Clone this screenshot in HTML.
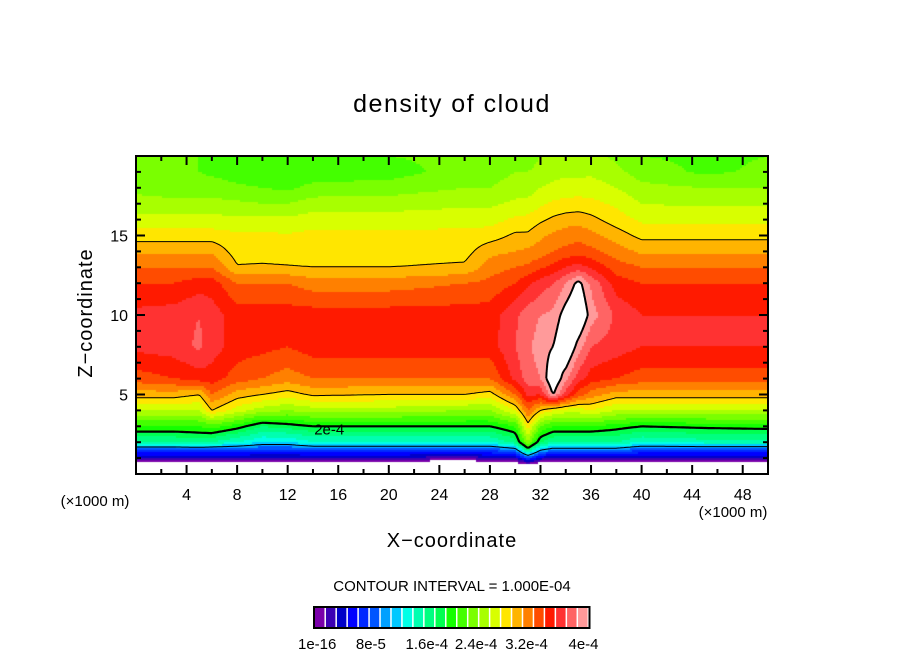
<!DOCTYPE html>
<html><head><meta charset="utf-8"><style>
html,body{margin:0;padding:0;background:#fff;}
#wrap{position:relative;width:904px;height:654px;overflow:hidden;font-family:"Liberation Sans",sans-serif;}
canvas{position:absolute;left:136px;top:156px;}
svg{position:absolute;left:0;top:0;}
</style></head><body>
<div id="wrap">
<canvas id="cv" width="632" height="318"></canvas>
<svg id="sv" width="904" height="654">
<text x="452" y="112" text-anchor="middle" font-size="25" letter-spacing="1.5">density of cloud</text>
<text x="452" y="547" text-anchor="middle" font-size="20" letter-spacing="1">X−coordinate</text>
<text x="0" y="0" transform="translate(92,313) rotate(-90)" text-anchor="middle" font-size="20" letter-spacing="1">Z−coordinate</text>
<text x="95" y="506" text-anchor="middle" font-size="15">(×1000 m)</text>
<text x="733" y="517" text-anchor="middle" font-size="15">(×1000 m)</text>
<text x="452" y="591" text-anchor="middle" font-size="15">CONTOUR INTERVAL = 1.000E-04</text>
<g id="ticks"></g>
<g id="lines"></g>
<g id="cbar"></g>
<rect x="136" y="156" width="632" height="318" fill="none" stroke="#000" stroke-width="2"></rect>
</svg>
</div>
<script>
// color levels
const colors=["#7a00aa","#3c00b4","#0000c8","#0000ff","#0028ff","#0055ff","#00a0ff","#00c8ff","#00ffe6","#00ffb0","#00ff80","#00ff50","#14ff00","#44ff00","#7aff00","#a8ff00","#d8ff00","#ffe600","#ffb400","#ff8000","#ff4c00","#ff1a00","#ff3232","#ff6464","#ff9a9a"];
const cbarLabels=["1e-16","8e-5","1.6e-4","2.4e-4","3.2e-4","4e-4"];
const cbarLabelIdx=[-0.3,4.6,9.7,14.2,18.8,24];
const xTicks=[4,8,12,16,20,24,28,32,36,40,44,48];
const yTicks=[5,10,15];
// grid: x positions (km), z positions (km), values in colour-level units
const gx=[0,3,5,6,8,10,12,14,20,26,28,30,31,32,33,34,35,36,38,40,45,50];
const gz=[0,0.5,1,1.5,2,3,4,5,6,8,10,12,13,14,15,16,17,18,19,20];
const col0=[-6,-2,2,5,10,13,16,18.5,20.5,22.3,22.3,21,20,18.8,17.5,16.3,15.3,14.8,14.3,14];
const col3=[-6,-2,2,5,10,13,16,18.5,21,22.5,22.5,21,20,18.8,17.5,16.3,15.3,14.5,14,14];
const col5=[-6,-2,2,5,10.5,13,16,18,21.5,23.2,23,21.5,20,18.8,17.5,16.3,15.3,14.5,14,14];
const col6=[-6,-2,2,5,10,13.5,18,20,21.5,22.5,22.5,21.5,20,18.8,17.5,16.3,15.3,14.5,13.8,14];
const col8=[-6,-2,2,5,9,12.5,16.5,18.5,20.5,21.5,21.5,20,18.1,17.5,17.2,16.3,15.2,14.2,13.5,14];
const col10=[-6,-2,1.8,4.5,8,11,15.5,18,20,21.3,21.5,20,18.2,17.4,17.2,16.3,15,14,13.3,14];
const col12=[-6,-2,1.8,4.5,8,11.5,15,17.5,19.5,21,21.5,20,18.1,17.4,17.1,16.2,15,13.8,13.2,14];
const col14=[-6,-2,2,5,9,12,15.5,18.2,20,21.5,21.5,19.5,18,17.5,17.3,16.5,15.5,14.3,13.4,14];
const col20=[-6,-2,2,5,9,12,15.5,18,20,21.5,21.5,19.5,18,17.5,17.3,16.5,15.5,14.5,13.5,14];
const col26=[-8,-3,1,5,9,12,15,18,20,21.5,21.5,20,18.2,17.6,17.3,16.6,15.8,15,14.5,14.3];
const col28=[-6,-2,2,5,9,12,15,17.5,20,21.5,21.5,20.3,19.5,18.7,17.5,16.6,15.8,15,14.5,14.5];
const col30=[-6,-2,2,6,10.5,13,17,20,22.3,23,22.8,21,20,19,18.2,17.2,16.2,15.5,15,14.5];
const col31=[-5,-1,5,11,15,17.5,20,22.3,23.5,23.8,23.5,21.8,20.2,19.2,18.2,17.3,16.3,15.5,15,14.5];
const col32=[-6,-2,2.5,7,11,14,18,22,24,24.5,24,22.5,20.8,19.5,18.8,17.8,16.8,16,15.3,15];
const col33=[-6,-2,2,6,10,13,17,25.1,26.2,25,24.2,23,21.3,20,19.2,18.2,17.2,16.3,15.6,15.2];
const col34=[-6,-2,2,6,10,13,16.5,22.5,24.3,26.5,25.6,24,22,20.3,19.5,18.5,17.3,16.5,15.7,15.3];
const col35=[-6,-2,2,6,10,13,16.5,20.5,22.5,24.5,26.5,25.4,22.5,20.5,19.7,18.6,17.4,16.5,15.7,15.3];
const col36=[-6,-2,2,6,10,13,17,19.5,21.5,23,24.5,23.8,21.8,20.3,19.3,18.3,17.3,16.5,15.8,15.3];
const col38=[-6,-2,2,6,10,12.5,16,18.5,21,22.5,22.8,21.5,20.5,19.5,18.5,17.5,16.8,16,15.3,14.8];
const col40=[-6,-2,2,5,9,12,16,18.5,20.5,22,22,21,20,18.8,17.7,16.8,16,15.3,14.5,14];
const col45=[-6,-2,2,5,9.5,12.3,16,18.5,20.5,22,22,21,20,18.8,17.7,16.8,15.8,15,13.8,13.8];
const col50=[-6,-2,2,5,9.5,12.5,16,18.5,20.5,22,22,21,20,18.8,17.7,16.8,15.8,15,14.2,14];
const cols=[col0,col3,col5,col6,col8,col10,col12,col14,col20,col26,col28,col30,col31,col32,col33,col34,col35,col36,col38,col40,col45,col50];
const contourLevels=[7,12,18,25];
const contourWidths=[1,2.2,1,2];

const X0=136,Y0=156,W=632,H=318,XMAX=50,ZMAX=20;
const sx=v=>X0+v/XMAX*W, sy=v=>Y0+H-v/ZMAX*H;
function seg(arr,v){let i=0;while(i<arr.length-2&&v>arr[i+1])i++;let t=(v-arr[i])/(arr[i+1]-arr[i]);return [i,Math.max(0,Math.min(1,t))];}
function field(x,z){const [i,tx]=seg(gx,x),[j,tz]=seg(gz,z);
 const a=cols[i][j],b=cols[i+1][j],c=cols[i][j+1],d=cols[i+1][j+1];
 return (a*(1-tx)+b*tx)*(1-tz)+(c*(1-tx)+d*tx)*tz;}
const ctx=document.getElementById('cv').getContext('2d');
const S=2,NX=W/S,NY=H/S;
const vals=[];
for(let r=0;r<=NY;r++){vals.push([]);for(let c=0;c<=NX;c++){vals[r].push(field(c*S/W*XMAX,ZMAX-r*S/H*ZMAX));}}
for(let r=0;r<NY;r++)for(let c=0;c<NX;c++){
 const v=(vals[r][c]+vals[r][c+1]+vals[r+1][c]+vals[r+1][c+1])/4;
 if(v<0||v>=25)continue;ctx.fillStyle=colors[Math.floor(v)];ctx.fillRect(c*S,r*S,S,S);}
const NS='http://www.w3.org/2000/svg';
const lg=document.getElementById('lines');
contourLevels.forEach((L,k)=>{let d='';
 for(let r=0;r<NY;r++)for(let c=0;c<NX;c++){
  const p=[[c,r,vals[r][c]],[c+1,r,vals[r][c+1]],[c+1,r+1,vals[r+1][c+1]],[c,r+1,vals[r+1][c]]];const pts=[];
  for(let e=0;e<4;e++){const A=p[e],B=p[(e+1)%4];if((A[2]<L)!==(B[2]<L)){const t=(L-A[2])/(B[2]-A[2]);pts.push([X0+(A[0]+t*(B[0]-A[0]))*S,Y0+(A[1]+t*(B[1]-A[1]))*S]);}}
  for(let q=0;q+1<pts.length;q+=2)d+='M'+pts[q][0].toFixed(1)+' '+pts[q][1].toFixed(1)+'L'+pts[q+1][0].toFixed(1)+' '+pts[q+1][1].toFixed(1);}
 const pa=document.createElementNS(NS,'path');pa.setAttribute('d',d);pa.setAttribute('stroke','#000');pa.setAttribute('fill','none');pa.setAttribute('stroke-width',contourWidths[k]);
 
 
 lg.appendChild(pa);});
const lbl=document.createElementNS(NS,'text');lbl.setAttribute('x',sx(14.1));lbl.setAttribute('y',sy(2.5));lbl.setAttribute('font-size','15');lbl.textContent='2e-4';


lg.appendChild(lbl);
const tg=document.getElementById('ticks');
function ln(x1,y1,x2,y2,name){const l=document.createElementNS(NS,'line');l.setAttribute('x1',x1);l.setAttribute('y1',y1);l.setAttribute('x2',x2);l.setAttribute('y2',y2);l.setAttribute('stroke','#000');l.setAttribute('stroke-width','2');
 
 
 tg.appendChild(l);}
function tx(x,y,s,anchor,name){const t=document.createElementNS(NS,'text');t.setAttribute('x',x);t.setAttribute('y',y);t.setAttribute('font-size','16');t.setAttribute('text-anchor',anchor);t.textContent=s;
 
 
 tg.appendChild(t);}
for(let v=2;v<XMAX;v+=2){const major=v%4===0,len=major?9:5,x=sx(v);ln(x,Y0+H,x,Y0+H-len,'x-tick');ln(x,Y0,x,Y0+len,'x-tick');}
xTicks.forEach(v=>tx(sx(v),Y0+H+26,String(v),'middle','x-tick-label'));
for(let v=1;v<ZMAX;v++){const major=v%5===0,len=major?9:5,y=sy(v);ln(X0,y,X0+len,y,'y-tick');ln(X0+W,y,X0+W-len,y,'y-tick');}
yTicks.forEach(v=>tx(X0-8,sy(v)+6,String(v),'end','y-tick-label'));
const cg=document.getElementById('cbar');const CX=315,CW=274/colors.length,CY=608,CH=19;
colors.forEach((c,i)=>{const r=document.createElementNS(NS,'rect');r.setAttribute('x',CX+i*CW);r.setAttribute('y',CY);r.setAttribute('width',CW-1.5);r.setAttribute('height',CH);r.setAttribute('fill',c);
 
 
 cg.appendChild(r);});
const fr=document.createElementNS(NS,'rect');fr.setAttribute('x',CX-1);fr.setAttribute('y',CY-1);fr.setAttribute('width',275.5);fr.setAttribute('height',CH+2);fr.setAttribute('fill','none');fr.setAttribute('stroke','#000');fr.setAttribute('stroke-width','2');


cg.appendChild(fr);
cbarLabels.forEach((s,i)=>{const t=document.createElementNS(NS,'text');t.setAttribute('x',CX+cbarLabelIdx[i]*CW+CW/2);t.setAttribute('y',649);t.setAttribute('font-size','15');t.setAttribute('text-anchor','middle');t.textContent=s;
 
 
 cg.appendChild(t);});
</script>
</body></html>
